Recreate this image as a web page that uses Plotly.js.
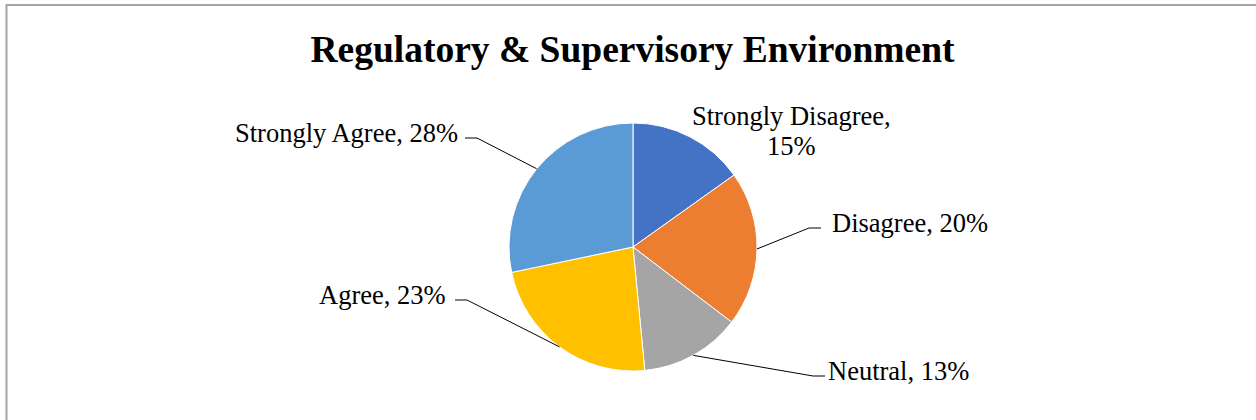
<!DOCTYPE html>
<html>
<head>
<meta charset="utf-8">
<script src="https://cdn.plot.ly/plotly-3.0.1.min.js"></script>
<style>
  html, body { margin: 0; padding: 0; background: #ffffff; }
  #chart { width: 1256px; height: 420px; }
</style>
</head>
<body>
<div id="chart"></div>
<script>
// Survey responses for the regulatory & supervisory environment
const categories = ['Strongly Disagree', 'Disagree', 'Neutral', 'Agree', 'Strongly Agree'];
const shares = [15, 20, 13, 23, 28];
const sliceColors = ['#4472C4', '#ED7D31', '#A5A5A5', '#FFC000', '#5B9BD5'];

const W = 1256, H = 420;
// Pie placement in pixels (centre and radius)
const pie = { cx: 633, cy: 247, r: 124 };

// Where each data label sits: leader elbow (ex, ey), the side the text is on
// and the gap between the leader end and the text.
// Labels without a leader are stacked over two lines centred on tx.
const labelPlacement = [
  { leader: false, tx: 791, lineY: [116, 146] },
  { leader: true, ex: 809, ey: 228, side: 'right', gap: 10 },
  { leader: true, ex: 813, ey: 376, side: 'right', gap: 2 },
  { leader: true, ex: 467, ey: 300, side: 'left', gap: 8 },
  { leader: true, ex: 477, ey: 138, side: 'left', gap: 6 }
];
const stub = 12;       // horizontal part of each leader line
const labelFont = { family: 'Liberation Serif, Times New Roman, serif', size: 26.5, color: '#000000' };

const px = x => x / W;
const py = y => 1 - y / H;

const total = shares.reduce((a, b) => a + b, 0);
const annotations = [];
const shapes = [];
let cum = 0;
shares.forEach((v, i) => {
  const frac = (cum + v / 2) / total;
  cum += v;
  const ang = 2 * Math.PI * frac;          // clockwise from 12 o'clock
  const edgeX = pie.cx + pie.r * Math.sin(ang);
  const edgeY = pie.cy - pie.r * Math.cos(ang);
  const p = labelPlacement[i];
  if (p.leader) {
    const dir = p.side === 'right' ? 1 : -1;
    const endX = p.ex + dir * stub;
    shapes.push({
      type: 'path', xref: 'paper', yref: 'paper',
      path: `M ${px(edgeX)} ${py(edgeY)} L ${px(p.ex)} ${py(p.ey)} L ${px(endX)} ${py(p.ey)}`,
      line: { color: '#000000', width: 1 }
    });
    annotations.push({
      xref: 'paper', yref: 'paper',
      x: px(endX + dir * p.gap), y: py(p.ey - 5),
      xanchor: p.side === 'right' ? 'left' : 'right', yanchor: 'middle',
      text: categories[i] + ', ' + v + '%', showarrow: false, borderpad: 0,
      font: labelFont
    });
  } else {
    const parts = [categories[i] + ',', v + '%'];
    parts.forEach((t, k) => {
      annotations.push({
        xref: 'paper', yref: 'paper',
        x: px(p.tx), y: py(p.lineY[k]),
        xanchor: 'center', yanchor: 'middle',
        text: t, showarrow: false, borderpad: 0,
        font: labelFont
      });
    });
  }
});

// Chart-area frame
shapes.push({
  type: 'rect', xref: 'paper', yref: 'paper',
  x0: px(6.5), y0: py(5), x1: px(W + 20), y1: py(H + 20),
  line: { color: '#A6A6A6', width: 2 }, fillcolor: 'rgba(0,0,0,0)'
});

const trace = {
  type: 'pie',
  labels: categories,
  values: shares,
  sort: false,
  direction: 'clockwise',
  rotation: 0,
  marker: { colors: sliceColors, line: { color: '#ffffff', width: 1 } },
  textinfo: 'none',
  hoverinfo: 'label+percent',
  showlegend: false,
  domain: {
    x: [px(pie.cx - pie.r), px(pie.cx + pie.r)],
    y: [py(pie.cy + pie.r), py(pie.cy - pie.r)]
  }
};

const layout = {
  width: W, height: H,
  margin: { l: 0, r: 0, t: 0, b: 0 },
  paper_bgcolor: '#ffffff',
  title: {
    text: 'Regulatory & Supervisory Environment',
    font: { family: 'Liberation Serif, Times New Roman, serif', size: 37.5, color: '#000000', weight: 'bold' },
    xref: 'paper', yref: 'paper',
    x: px(632.5), xanchor: 'center',
    y: py(49), yanchor: 'middle'
  },
  annotations: annotations,
  shapes: shapes
};

Plotly.newPlot('chart', [trace], layout, { staticPlot: true, displayModeBar: false });
</script>
</body>
</html>
